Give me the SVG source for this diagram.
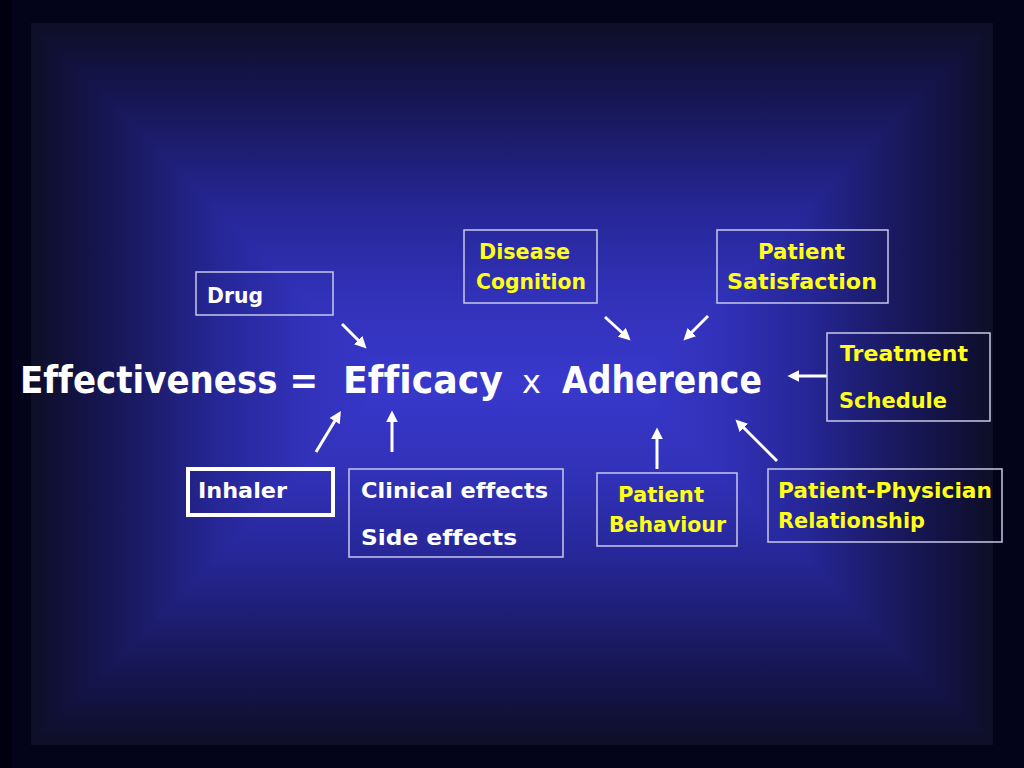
<svg xmlns="http://www.w3.org/2000/svg" width="1024" height="768" viewBox="0 0 1024 768">
  <defs>
    <linearGradient id="gh" gradientUnits="userSpaceOnUse" x1="31" y1="0" x2="993" y2="0">
      <stop offset="0" stop-color="#0e0e26"/>
      <stop offset="0.054" stop-color="#131346"/>
      <stop offset="0.123" stop-color="#1c1c6c"/>
      <stop offset="0.192" stop-color="#262696"/>
      <stop offset="0.281" stop-color="#3131b8"/>
      <stop offset="0.375" stop-color="#3838cc"/>
      <stop offset="0.625" stop-color="#3838cc"/>
      <stop offset="0.719" stop-color="#3131b8"/>
      <stop offset="0.808" stop-color="#262696"/>
      <stop offset="0.877" stop-color="#1c1c6c"/>
      <stop offset="0.946" stop-color="#131346"/>
      <stop offset="1" stop-color="#0e0e26"/>
    </linearGradient>
    <linearGradient id="gv" gradientUnits="userSpaceOnUse" x1="0" y1="23" x2="0" y2="745">
      <stop offset="0" stop-color="#0e0e26"/>
      <stop offset="0.072" stop-color="#131346"/>
      <stop offset="0.163" stop-color="#1c1c6c"/>
      <stop offset="0.256" stop-color="#262696"/>
      <stop offset="0.374" stop-color="#3131b8"/>
      <stop offset="0.5" stop-color="#3838cc"/>
      <stop offset="0.626" stop-color="#3131b8"/>
      <stop offset="0.744" stop-color="#262696"/>
      <stop offset="0.837" stop-color="#1c1c6c"/>
      <stop offset="0.928" stop-color="#131346"/>
      <stop offset="1" stop-color="#0e0e26"/>
    </linearGradient>
    <marker id="ah" viewBox="0 0 10 10" refX="7" refY="5" markerWidth="4" markerHeight="4" orient="auto" markerUnits="strokeWidth">
      <path d="M0,0 L10,5 L0,10 z" fill="#ffffff"/>
    </marker>
    <style>
      text { font-variant-ligatures: none; }
      .box { fill: none; stroke: #c8c8e8; stroke-width: 1.5; }
      .lbl { font-family: "Comic Sans MS", "DejaVu Sans", sans-serif; font-weight: bold; font-size: 22px; }
      .w { fill: #ffffff; }
      .y { fill: #ffff1a; }
      .main { font-family: "Comic Sans MS", "DejaVu Sans", sans-serif; font-weight: bold; font-size: 36.5px; fill: #ffffff; }
      .arr { stroke: #ffffff; stroke-width: 3; fill: none; marker-end: url(#ah); }
    </style>
  </defs>

  <g id="background">
    <rect x="0" y="0" width="1024" height="768" fill="#03031a"/>
    <rect x="0" y="0" width="12" height="768" fill="#000010"/>
    <g style="isolation:isolate">
      <rect x="31" y="23" width="962" height="722" fill="url(#gh)"/>
      <rect x="31" y="23" width="962" height="722" fill="url(#gv)" style="mix-blend-mode:darken"/>
    </g>
  </g>

  <g id="equation">
    <text class="main" x="20" y="393" textLength="298" lengthAdjust="spacingAndGlyphs">Effectiveness =</text>
    <text class="main" x="343" y="393" textLength="160" lengthAdjust="spacingAndGlyphs">Efficacy</text>
    <text x="522" y="393" font-family="'Comic Sans MS', 'DejaVu Sans', sans-serif" font-size="32" fill="#ffffff">x</text>
    <text class="main" x="562" y="393" textLength="200" lengthAdjust="spacingAndGlyphs">Adherence</text>
  </g>

  <g id="connectors">
    <line class="arr" x1="342" y1="324" x2="364" y2="346"/>
    <line class="arr" x1="605" y1="317" x2="628" y2="338"/>
    <line class="arr" x1="708" y1="316" x2="686" y2="338"/>
    <line class="arr" x1="827" y1="376" x2="791" y2="376"/>
    <line class="arr" x1="316" y1="452" x2="339" y2="414"/>
    <line class="arr" x1="392" y1="452" x2="392" y2="414"/>
    <line class="arr" x1="657" y1="469" x2="657" y2="431"/>
    <line class="arr" x1="777" y1="461" x2="738" y2="422"/>
  </g>

  <g id="drug">
    <rect class="box" x="196" y="272" width="137" height="43"/>
    <text class="lbl w" x="207" y="303" textLength="56" lengthAdjust="spacingAndGlyphs">Drug</text>
  </g>

  <g id="disease-cognition">
    <rect class="box" x="464" y="230" width="133" height="73"/>
    <text class="lbl y" x="479" y="259" textLength="91" lengthAdjust="spacingAndGlyphs">Disease</text>
    <text class="lbl y" x="476" y="289" textLength="110" lengthAdjust="spacingAndGlyphs">Cognition</text>
  </g>

  <g id="patient-satisfaction">
    <rect class="box" x="717" y="230" width="171" height="73"/>
    <text class="lbl y" x="758" y="259" textLength="87" lengthAdjust="spacingAndGlyphs">Patient</text>
    <text class="lbl y" x="727" y="289" textLength="150" lengthAdjust="spacingAndGlyphs">Satisfaction</text>
  </g>

  <g id="treatment-schedule">
    <rect class="box" x="827" y="333" width="163" height="88"/>
    <text class="lbl y" x="840" y="361" textLength="128" lengthAdjust="spacingAndGlyphs">Treatment</text>
    <text class="lbl y" x="839" y="408" textLength="108" lengthAdjust="spacingAndGlyphs">Schedule</text>
  </g>

  <g id="inhaler">
    <rect x="188" y="469" width="145" height="46" fill="none" stroke="#ffffff" stroke-width="4"/>
    <text class="lbl w" x="198" y="498" textLength="89" lengthAdjust="spacingAndGlyphs">Inhaler</text>
  </g>

  <g id="clinical-side-effects">
    <rect class="box" x="349" y="469" width="214" height="88"/>
    <text class="lbl w" x="361" y="498" textLength="187" lengthAdjust="spacingAndGlyphs">Clinical effects</text>
    <text class="lbl w" x="361" y="545" textLength="156" lengthAdjust="spacingAndGlyphs">Side effects</text>
  </g>

  <g id="patient-behaviour">
    <rect class="box" x="597" y="473" width="140" height="73"/>
    <text class="lbl y" x="618" y="502" textLength="86" lengthAdjust="spacingAndGlyphs">Patient</text>
    <text class="lbl y" x="609" y="532" textLength="117" lengthAdjust="spacingAndGlyphs">Behaviour</text>
  </g>

  <g id="patient-physician">
    <rect class="box" x="768" y="469" width="234" height="73"/>
    <text class="lbl y" x="778" y="498" textLength="214" lengthAdjust="spacingAndGlyphs">Patient-Physician</text>
    <text class="lbl y" x="778" y="528" textLength="147" lengthAdjust="spacingAndGlyphs">Relationship</text>
  </g>
</svg>
